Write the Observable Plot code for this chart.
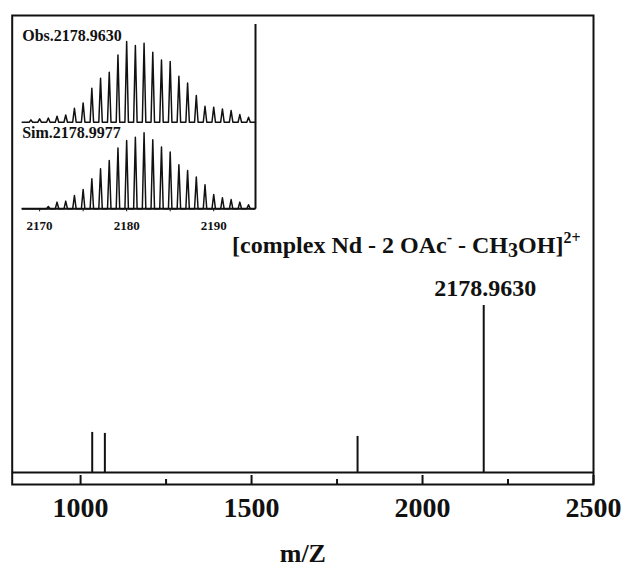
<!DOCTYPE html>
<html>
<head>
<meta charset="utf-8">
<script src="https://cdn.jsdelivr.net/npm/d3@7"></script>
<script src="https://cdn.jsdelivr.net/npm/@observablehq/plot@0.6"></script>
<style>
  html, body { margin: 0; padding: 0; background: white; }
  #wrap { position: relative; width: 625px; height: 567px; }
  #wrap svg { position: absolute; left: 0; top: 0; }
</style>
</head>
<body>
<div id="wrap"></div>
<script>
// ---------- data ----------
const mainMz = [1034, 1071, 1810, 2178.963];
const mainIntensity = [24, 23.4, 21.6, 100];
const mainTicks = [1000, 1500, 2000, 2500];
const mainMinorTicks = [1250, 1750, 2250];
const xLabel = "m/Z";
const complexLabelParts = [
  {t: "[complex Nd - 2 OAc"}, {t: "-", k: "sup"}, {t: " - CH"}, {t: "3", k: "sub"}, {t: "OH]"}, {t: "2+", k: "sup"}
];

const insetMz = [2169,2170,2171,2172,2173,2174,2175,2176,2177,2178,2179,2180,2181,2182,2183,2184,2185,2186,2187,2188,2189,2190,2191,2192,2193,2194];
const obsIntensity = [2.9,4.1,5.3,7.4,9,17.3,23.9,42.1,54.5,62,83.4,100,95,97.9,86.7,77.2,75.2,57,48.7,33.1,19.8,18.6,16.5,14.5,9.5,6.2];
const simIntensity = [0,0,2.9,8.3,9.5,16.5,23.9,37.2,49.6,59.9,75.2,84.6,88.8,94.2,85.5,76.5,70.3,54.5,47.5,39.3,29.7,17.7,13.6,11.5,8.3,5];
const insetTicks = [2170, 2175, 2180, 2185, 2190];
const obsLabel = "Obs.2178.9630";
const simLabel = "Sim.2178.9977";

// ---------- layout / style ----------
const FONT = "'Liberation Serif', 'Times New Roman', serif";
const INK = "#111";
const wrap = document.getElementById("wrap");

const mainPeaks = mainMz.map((mz, i) => ({mz, i: mainIntensity[i]}));
const topPeak = mainPeaks.reduce((a, b) => (b.i > a.i ? b : a));
const complexPlain = complexLabelParts.map(p => p.t).join("");

const frameH = 484 - 15;
const main = Plot.plot({
  width: 625, height: 567,
  marginLeft: 11.7, marginRight: 32, marginTop: 15, marginBottom: 83,
  style: {fontFamily: FONT, fontWeight: "bold", fontSize: "28px", color: INK, background: "white"},
  x: {domain: [800, 2500], ticks: mainTicks, tickSize: 0, tickPadding: 13, tickFormat: d => String(d), label: null},
  y: {domain: [-7.19, 273.7], axis: null},
  marks: [
    Plot.frame({stroke: INK, strokeWidth: 2}),
    Plot.ruleY([0], {stroke: INK, strokeWidth: 2}),
    Plot.ruleX(mainPeaks, {x: "mz", y1: 0, y2: "i", stroke: INK, strokeWidth: 2}),
    Plot.ruleX(mainTicks, {x: d => d, insetTop: frameH - 9, stroke: INK, strokeWidth: 2}),
    Plot.ruleX(mainMinorTicks, {x: d => d, insetTop: frameH - 5, stroke: INK, strokeWidth: 2}),
    Plot.text([topPeak], {x: "mz", y: "i", text: d => d.mz.toFixed(4), dx: 1.5, dy: -17.7, lineAnchor: "middle", fontSize: 24, fill: INK}),
    Plot.text([complexPlain], {text: d => d, frameAnchor: "top-right", textAnchor: "end", dx: -13, dy: 229.5, lineAnchor: "middle", fontSize: 24, fill: INK}),
    Plot.text([xLabel], {text: d => d, frameAnchor: "bottom", dy: 69, lineAnchor: "middle", fontSize: 26, fill: INK})
  ]
});
wrap.appendChild(main);

// rich text for complex label (superscripts / subscript)
d3.select(main).selectAll("text").filter(function() { return this.textContent === complexPlain; }).each(function() {
  const t = d3.select(this);
  t.text(null);
  let carry = 0;
  for (const p of complexLabelParts) {
    const s = t.append("tspan").text(p.t);
    if (p.k === "sup") {
      s.attr("dy", carry - 10).attr("font-size", 16);
      carry = 10;
    } else if (p.k === "sub") {
      s.attr("dy", carry + 4).attr("font-size", 20);
      carry = -4;
    } else {
      if (carry) s.attr("dy", carry);
      carry = 0;
    }
  }
});

// ---------- inset ----------
const insetDomain = [2168, 2194.8];
const obsOffset = 107.3;
const hw = 0.2;
function traceLine(values, offset) {
  const pts = [{x: insetDomain[0], y: offset}];
  insetMz.forEach((mz, i) => {
    pts.push({x: mz - hw, y: offset});
    pts.push({x: mz, y: offset + values[i]});
    pts.push({x: mz + hw, y: offset});
  });
  pts.push({x: insetDomain[1], y: offset});
  return pts;
}
const obsLine = traceLine(obsIntensity, obsOffset);
const simLine = traceLine(simIntensity, 0);

const inset = Plot.plot({
  width: 270, height: 235,
  marginLeft: 21.7, marginRight: 15, marginTop: 24, marginBottom: 26.7,
  style: {fontFamily: FONT, fontWeight: "bold", fontSize: "13px", color: INK, background: "none"},
  x: {domain: insetDomain, ticks: insetTicks, tickSize: 3, tickPadding: 8.5, tickFormat: d => (d % 10 === 0 ? String(d) : ""), label: null},
  y: {domain: [0, 228.4], axis: null},
  marks: [
    Plot.line(obsLine, {x: "x", y: "y", stroke: INK, strokeWidth: 1.5}),
    Plot.line(simLine, {x: "x", y: "y", stroke: INK, strokeWidth: 1.5}),
    Plot.ruleY([0], {stroke: INK, strokeWidth: 2}),
    Plot.ruleX([insetDomain[1]], {x: d => d, stroke: INK, strokeWidth: 2}),
    Plot.text([obsLabel], {text: d => d, frameAnchor: "top-left", textAnchor: "start", lineAnchor: "middle", dy: 11.6, fontSize: 16, fill: INK}),
    Plot.text([simLabel], {text: d => d, frameAnchor: "top-left", textAnchor: "start", lineAnchor: "middle", dy: 108.1, fontSize: 16, fill: INK})
  ]
});
wrap.appendChild(inset);
</script>
</body>
</html>
